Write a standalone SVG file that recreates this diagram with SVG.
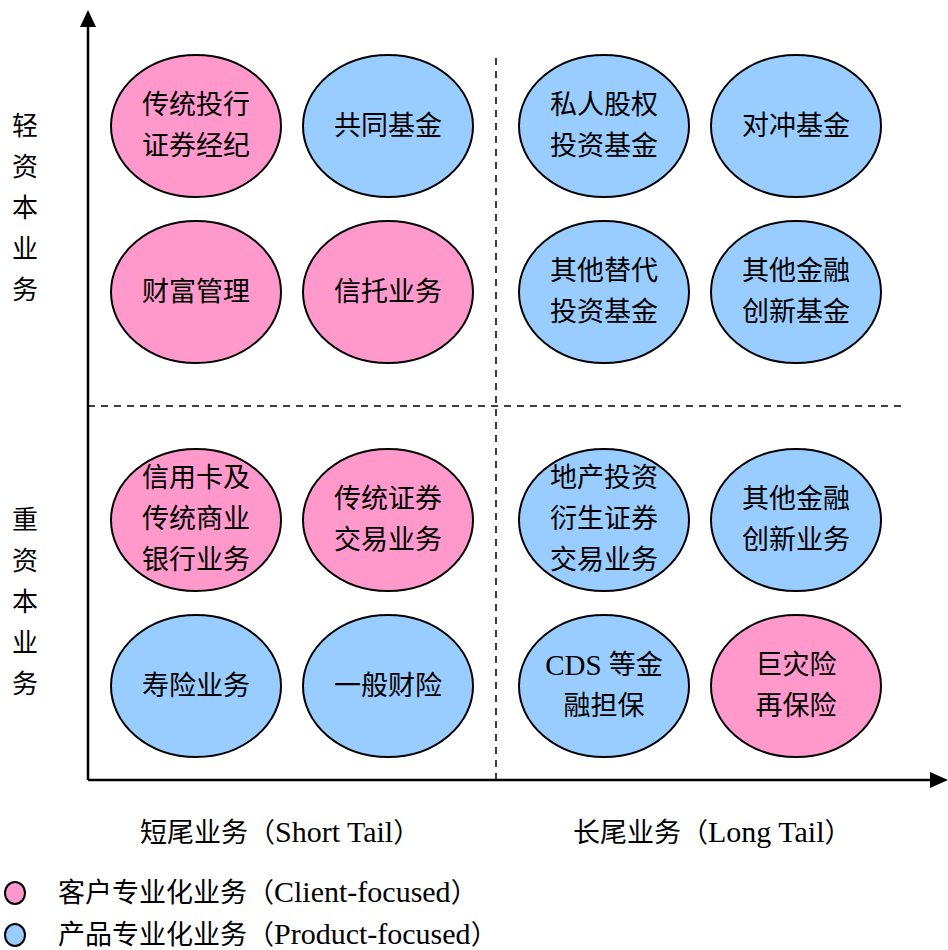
<svg xmlns="http://www.w3.org/2000/svg" width="948" height="950" viewBox="0 0 948 950">
<style>
.n{stroke:#000;stroke-width:2}
.p{fill:#FF99CC}
.b{fill:#99CCFF}
text{font-family:"Liberation Serif","Noto Sans CJK SC",serif;fill:#000}
.t{font-size:27px;text-anchor:middle;dominant-baseline:central}
.l{font-size:26px;text-anchor:middle;dominant-baseline:central}
.x{font-size:27px}
.lat{font-size:30px}
.dash{stroke:#000;stroke-width:1.5;stroke-dasharray:7,6;fill:none}
</style>
<g id="connectors">
<path class="dash" d="M88,406 H905"/>
<path class="dash" d="M496,58 V780"/>
<path d="M88,780 V24" stroke="#000" stroke-width="2.5"/>
<path d="M80,27 L88,10 L96,27 z" fill="#000"/>
<path d="M88,780 H932" stroke="#000" stroke-width="2.5"/>
<path d="M930,772 L948,780 L930,788 z" fill="#000"/>
</g>
<g id="axis-labels">
<text class="l" x="25" y="126">轻</text>
<text class="l" x="25" y="167">资</text>
<text class="l" x="25" y="208">本</text>
<text class="l" x="25" y="249">业</text>
<text class="l" x="25" y="290">务</text>
<text class="l" x="25" y="520">重</text>
<text class="l" x="25" y="561">资</text>
<text class="l" x="25" y="602">本</text>
<text class="l" x="25" y="643">业</text>
<text class="l" x="25" y="684">务</text>
<text class="x" x="140" y="842">短尾业务（<tspan class="lat">Short Tail</tspan>）</text>
<text class="x" x="573" y="842">长尾业务（<tspan class="lat">Long Tail</tspan>）</text>
</g>
<g id="n1"><ellipse class="n p" cx="196" cy="126" rx="85" ry="71"/><text class="t" x="196" y="105">传统投行</text><text class="t" x="196" y="146">证券经纪</text></g>
<g id="n2"><ellipse class="n b" cx="388" cy="126" rx="85" ry="71"/><text class="t" x="388" y="126">共同基金</text></g>
<g id="n3"><ellipse class="n b" cx="604" cy="126" rx="85" ry="71"/><text class="t" x="604" y="105">私人股权</text><text class="t" x="604" y="146">投资基金</text></g>
<g id="n4"><ellipse class="n b" cx="796" cy="126" rx="85" ry="71"/><text class="t" x="796" y="126">对冲基金</text></g>
<g id="n5"><ellipse class="n p" cx="196" cy="292" rx="85" ry="71"/><text class="t" x="196" y="292">财富管理</text></g>
<g id="n6"><ellipse class="n p" cx="388" cy="292" rx="85" ry="71"/><text class="t" x="388" y="292">信托业务</text></g>
<g id="n7"><ellipse class="n b" cx="604" cy="292" rx="85" ry="71"/><text class="t" x="604" y="271">其他替代</text><text class="t" x="604" y="312">投资基金</text></g>
<g id="n8"><ellipse class="n b" cx="796" cy="292" rx="85" ry="71"/><text class="t" x="796" y="271">其他金融</text><text class="t" x="796" y="312">创新基金</text></g>
<g id="n9"><ellipse class="n p" cx="196" cy="520" rx="85" ry="71"/><text class="t" x="196" y="478">信用卡及</text><text class="t" x="196" y="519">传统商业</text><text class="t" x="196" y="560">银行业务</text></g>
<g id="n10"><ellipse class="n p" cx="388" cy="520" rx="85" ry="71"/><text class="t" x="388" y="499">传统证券</text><text class="t" x="388" y="540">交易业务</text></g>
<g id="n11"><ellipse class="n b" cx="604" cy="520" rx="85" ry="71"/><text class="t" x="604" y="478">地产投资</text><text class="t" x="604" y="519">衍生证券</text><text class="t" x="604" y="560">交易业务</text></g>
<g id="n12"><ellipse class="n b" cx="796" cy="520" rx="85" ry="71"/><text class="t" x="796" y="499">其他金融</text><text class="t" x="796" y="540">创新业务</text></g>
<g id="n13"><ellipse class="n b" cx="196" cy="686" rx="85" ry="71"/><text class="t" x="196" y="686">寿险业务</text></g>
<g id="n14"><ellipse class="n b" cx="388" cy="686" rx="85" ry="71"/><text class="t" x="388" y="686">一般财险</text></g>
<g id="n15"><ellipse class="n b" cx="604" cy="686" rx="85" ry="71"/><text class="t" x="604" y="665"><tspan style="font-size:29px">CDS </tspan>等金</text><text class="t" x="604" y="706">融担保</text></g>
<g id="n16"><ellipse class="n p" cx="796" cy="686" rx="85" ry="71"/><text class="t" x="796" y="665">巨灾险</text><text class="t" x="796" y="706">再保险</text></g>
<g id="legend">
<ellipse class="n p" cx="15" cy="893" rx="10" ry="11" stroke-width="1.5"/>
<text class="x" x="58" y="902">客户专业化业务（<tspan class="lat">Client-focused</tspan>）</text>
<ellipse class="n b" cx="15" cy="935" rx="10" ry="11" stroke-width="1.5"/>
<text class="x" x="58" y="944">产品专业化业务（<tspan class="lat">Product-focused</tspan>）</text>
</g>
</svg>
